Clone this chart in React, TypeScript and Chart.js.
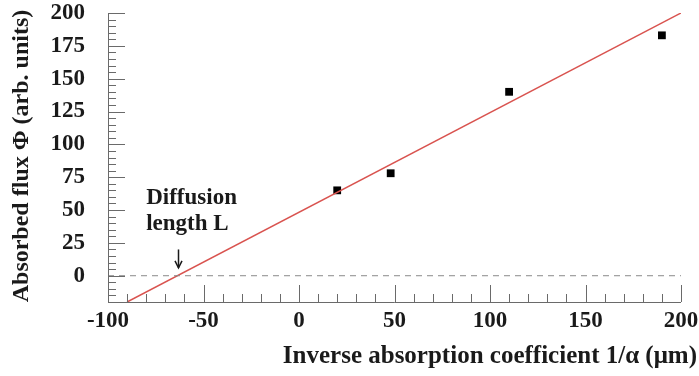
import React, { useEffect, useRef } from "react";
import { Chart, registerables } from "chart.js";

Chart.register(...registerables);

// ---- data ----
const pointX = [20, 48, 110, 190];
const pointY = [65, 78, 140, 183];
const fitX = [-90, 200];
const fitY = [-20, 200];
const zeroX = [-100, 200];
const zeroY = [0, 0];
const xTicks = [-100, -50, 0, 50, 100, 150, 200];
const yTicks = [0, 25, 50, 75, 100, 125, 150, 175, 200];
const xMinorStep = 10;
const yMinorStep = 5;
const diffusionLengthX = -63.6;
const xTitle = "Inverse absorption coefficient 1/\u03B1 (\u03BCm)";
const yTitle = "Absorbed flux \u03A6 (arb. units)";
const annotationLines = ["Diffusion", "length L"];

const X_MIN = -100;
const X_MAX = 200;
const Y_MIN = -20;
const Y_MAX = 200;

const FONT_FAMILY = "'Liberation Serif', 'Times New Roman', serif";
const AXIS_COLOR = "#6a6a6a";
const TEXT_COLOR = "#1a1a1a";

const decorPlugin = {
  id: "decor",
  afterDatasetsDraw(chart: any) {
    const { ctx, chartArea, scales } = chart;
    const x = scales.x;
    const y = scales.y;
    ctx.save();
    ctx.strokeStyle = AXIS_COLOR;
    ctx.lineWidth = 1;
    // axis lines
    ctx.beginPath();
    ctx.moveTo(chartArea.left + 0.5, chartArea.top);
    ctx.lineTo(chartArea.left + 0.5, chartArea.bottom + 0.5);
    ctx.lineTo(chartArea.right, chartArea.bottom + 0.5);
    ctx.stroke();
    // x ticks (inward)
    for (let v = X_MIN; v <= X_MAX + 1e-9; v += xMinorStep) {
      const px = Math.round(x.getPixelForValue(v)) + 0.5;
      const major = xTicks.includes(v);
      const len = major ? 17 : 8;
      ctx.beginPath();
      ctx.moveTo(px, chartArea.bottom);
      ctx.lineTo(px, chartArea.bottom - len);
      ctx.stroke();
    }
    // y ticks (inward)
    for (let v = Y_MIN; v <= Y_MAX + 1e-9; v += yMinorStep) {
      const py = Math.round(y.getPixelForValue(v)) + 0.5;
      const major = yTicks.includes(v);
      const len = major ? 17 : 8;
      ctx.beginPath();
      ctx.moveTo(chartArea.left, py);
      ctx.lineTo(chartArea.left + len, py);
      ctx.stroke();
    }

    // annotation
    ctx.fillStyle = TEXT_COLOR;
    ctx.font = `bold 23px ${FONT_FAMILY}`;
    ctx.textAlign = "left";
    ctx.textBaseline = "middle";
    const tx = x.getPixelForValue(-80);
    ctx.fillText(annotationLines[0], tx, y.getPixelForValue(59));
    ctx.fillText(annotationLines[1], tx, y.getPixelForValue(39));
    const ax = Math.round(x.getPixelForValue(diffusionLengthX)) + 0.5;
    const aTop = y.getPixelForValue(20);
    const aTip = y.getPixelForValue(6);
    ctx.strokeStyle = TEXT_COLOR;
    ctx.lineWidth = 1.5;
    ctx.beginPath();
    ctx.moveTo(ax, aTop);
    ctx.lineTo(ax, aTip);
    ctx.stroke();
    ctx.beginPath();
    ctx.moveTo(ax - 3.5, aTip - 7);
    ctx.lineTo(ax, aTip);
    ctx.lineTo(ax + 3.5, aTip - 7);
    ctx.stroke();

    // axis titles
    ctx.fillStyle = TEXT_COLOR;
    ctx.font = `bold 25px ${FONT_FAMILY}`;
    ctx.textAlign = "right";
    ctx.textBaseline = "middle";
    ctx.fillText(xTitle, 697, 357);
    ctx.save();
    ctx.translate(22, 156);
    ctx.rotate(-Math.PI / 2);
    ctx.textAlign = "center";
    ctx.font = `bold 24px ${FONT_FAMILY}`;
    ctx.fillText(yTitle, 0, 0);
    ctx.restore();
    ctx.restore();
  },
};

export default function App() {
  const ref = useRef<HTMLCanvasElement | null>(null);
  useEffect(() => {
    if (!ref.current) return;
    const chart = new Chart(ref.current, {
      type: "scatter",
      data: {
        datasets: [
          {
            label: "zero",
            data: zeroX.map((v, i) => ({ x: v, y: zeroY[i] })),
            showLine: true,
            borderColor: "#8a8a8a",
            borderWidth: 1,
            borderDash: [6, 5],
            pointRadius: 0,
          },
          {
            label: "fit",
            data: fitX.map((v, i) => ({ x: v, y: fitY[i] })),
            showLine: true,
            borderColor: "#d9534f",
            borderWidth: 1.5,
            pointRadius: 0,
          },
          {
            label: "data",
            data: pointX.map((v, i) => ({ x: v, y: pointY[i] })),
            showLine: false,
            pointStyle: "rect",
            pointRadius: 5.5,
            backgroundColor: "#000",
            borderColor: "#000",
            borderWidth: 0,
          },
        ],
      },
      options: {
        animation: false,
        responsive: false,
        layout: { padding: { left: 0, top: 13, right: 18, bottom: 0 } },
        plugins: { legend: { display: false }, tooltip: { enabled: false } },
        scales: {
          x: {
            type: "linear",
            min: X_MIN,
            max: X_MAX,
            grid: { display: false, drawTicks: false },
            border: { display: false },
            afterBuildTicks: (s: any) => {
              s.ticks = xTicks.map((v) => ({ value: v }));
            },
            afterFit: (s: any) => {
              s.height = 74;
              s.paddingLeft = 0;
              s.paddingRight = 0;
            },
            ticks: {
              padding: 5,
              color: TEXT_COLOR,
              font: { family: FONT_FAMILY, size: 23, weight: "bold" },
              maxRotation: 0,
              autoSkip: false,
            },
          },
          y: {
            type: "linear",
            min: Y_MIN,
            max: Y_MAX,
            grid: { display: false, drawTicks: false },
            border: { display: false },
            afterBuildTicks: (s: any) => {
              s.ticks = yTicks.map((v) => ({ value: v }));
            },
            afterFit: (s: any) => {
              s.width = 108;
              s.paddingTop = 0;
              s.paddingBottom = 0;
            },
            ticks: {
              padding: 23,
              color: TEXT_COLOR,
              font: { family: FONT_FAMILY, size: 23, weight: "bold" },
              autoSkip: false,
            },
          },
        },
      },
      plugins: [decorPlugin],
    });
    return () => chart.destroy();
  }, []);
  return (
    <div style={{ position: "absolute", left: 0, top: 0, width: 699, height: 376, background: "#fff" }}>
      <canvas ref={ref} width={699} height={376} />
    </div>
  );
}
